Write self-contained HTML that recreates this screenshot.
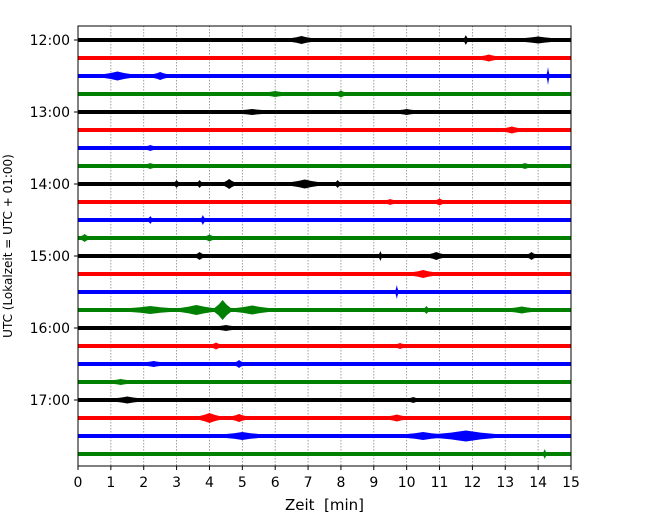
<!DOCTYPE html>
<html><head><meta charset="utf-8"><style>
body{margin:0;background:#fff;font-family:"Liberation Sans","DejaVu Sans",sans-serif}
</style></head><body>
<svg id="c" width="650" height="520" xmlns="http://www.w3.org/2000/svg" font-family="DejaVu Sans, Liberation Sans, sans-serif">
<rect width="650" height="520" fill="#fff"/>
<g id="grid"></g><g id="traces"></g><g id="axes"></g>
</svg>
<script>
const xTicks=[0,1,2,3,4,5,6,7,8,9,10,11,12,13,14,15];
const hourLabels=["12:00","13:00","14:00","15:00","16:00","17:00"];
const traceColors=["black","red","blue","green"];
const traceCount=24;
// events per trace: [minute, amplitude(px half), half-width(min)]
const events0=[[6.8,2,0.3],[11.8,3,0.05],[14.0,1.5,0.4]];
const events1=[[12.5,1.5,0.2]];
const events2=[[1.2,2.5,0.4],[2.5,2,0.2],[14.3,7,0.04]];
const events3=[[8,1.5,0.1],[6.0,1,0.2]];
const events4=[[5.3,1,0.3],[10.0,1,0.2]];
const events5=[[13.2,1.5,0.2]];
const events6=[[2.2,1,0.1]];
const events7=[[2.2,1,0.1],[13.6,1,0.1]];
const events8=[[3.0,2,0.06],[3.7,2,0.06],[4.6,3,0.15],[6.9,2.5,0.4],[7.9,2,0.06]];
const events9=[[11.0,1.5,0.1],[9.5,1,0.1]];
const events10=[[2.2,2,0.05],[3.8,3,0.05]];
const events11=[[0.2,2,0.1],[4.0,1.5,0.1]];
const events12=[[3.7,2,0.1],[9.2,3,0.04],[10.9,2,0.2],[13.8,2,0.1]];
const events13=[[10.5,2,0.3]];
const events14=[[9.7,5,0.04]];
const events15=[[2.2,2,0.6],[3.6,3,0.5],[4.4,8,0.25],[5.3,2.5,0.5],[10.6,2,0.06],[13.5,1.5,0.3]];
const events16=[[4.5,1,0.2]];
const events17=[[4.2,1.5,0.1],[9.8,1,0.1]];
const events18=[[4.9,2,0.1],[2.3,1,0.2]];
const events19=[[1.3,1,0.2]];
const events20=[[1.5,1.5,0.3],[10.2,1,0.1]];
const events21=[[4.0,3,0.3],[4.9,2,0.2],[9.7,1.5,0.2]];
const events22=[[5.0,2,0.5],[10.5,2,0.5],[11.8,3.5,0.9]];
const events23=[[14.2,3,0.04]];
const allEvents=[events0,events1,events2,events3,events4,events5,events6,events7,events8,events9,events10,events11,events12,events13,events14,events15,events16,events17,events18,events19,events20,events21,events22,events23];

const NS="http://www.w3.org/2000/svg";
const L=78,R=571,T=26,B=466,Y0=40,DY=18;
const sx=m=>L+(m/15)*(R-L);
const sy=i=>Y0+i*DY;
function mk(tag,attrs,parent){const e=document.createElementNS(NS,tag);for(const k in attrs)e.setAttribute(k,attrs[k]);parent.appendChild(e);return e;}
const grid=document.getElementById('grid'),tr=document.getElementById('traces'),ax=document.getElementById('axes');
xTicks.forEach(t=>{
  if(t>0&&t<15){const g=mk('line',{x1:sx(t),x2:sx(t),y1:T,y2:B,stroke:'#888','stroke-width':0.8,'stroke-dasharray':'1.5,1.5'},grid);
  
  }
  const tk=mk('line',{x1:sx(t),x2:sx(t),y1:B,y2:B+4,stroke:'#000'},ax);
  
  
  const lb=mk('text',{x:sx(t),y:B+21,'text-anchor':'middle','font-size':14},ax);lb.textContent=t;
  
  
});
for(let i=0;i<traceCount;i++){
  const y=sy(i),col=traceColors[i%4];
  const g=mk('g',{},tr);
  
  
  mk('rect',{x:L,y:y-2,width:R-L,height:4,fill:col},g);
  allEvents[i].forEach(ev=>{
    const [m,a,h]=ev;
    const p=[[sx(m-h),y-2],[sx(m-h/2),y-2-a*0.4],[sx(m),y-2-a],[sx(m+h/2),y-2-a*0.4],[sx(m+h),y-2],[sx(m+h),y+2],[sx(m+h/2),y+2+a*0.4],[sx(m),y+2+a],[sx(m-h/2),y+2+a*0.4],[sx(m-h),y+2]];
    const pe=mk('polygon',{points:p.map(q=>q.join(',')).join(' '),fill:col},g);
    
    
  });
}
hourLabels.forEach((h,k)=>{
  const y=sy(k*4);
  const tk=mk('line',{x1:L-4,x2:L,y1:y,y2:y,stroke:'#000'},ax);
  
  
  const lb=mk('text',{x:L-8,y:y+5,'text-anchor':'end','font-size':14},ax);lb.textContent=h;
  
  
});
const fr=mk('rect',{x:L,y:T,width:R-L,height:B-T,fill:'none',stroke:'#000','stroke-width':1},ax);


const xl=mk('text',{x:(L+R)/2,y:510,'text-anchor':'middle','font-size':15},ax);xl.textContent='Zeit \u00a0[min]';


const yl=mk('text',{x:0,y:0,'text-anchor':'middle','font-size':12,transform:'translate(12,246) rotate(-90)'},ax);yl.textContent='UTC (Lokalzeit = UTC + 01:00)';


</script>
</body></html>
